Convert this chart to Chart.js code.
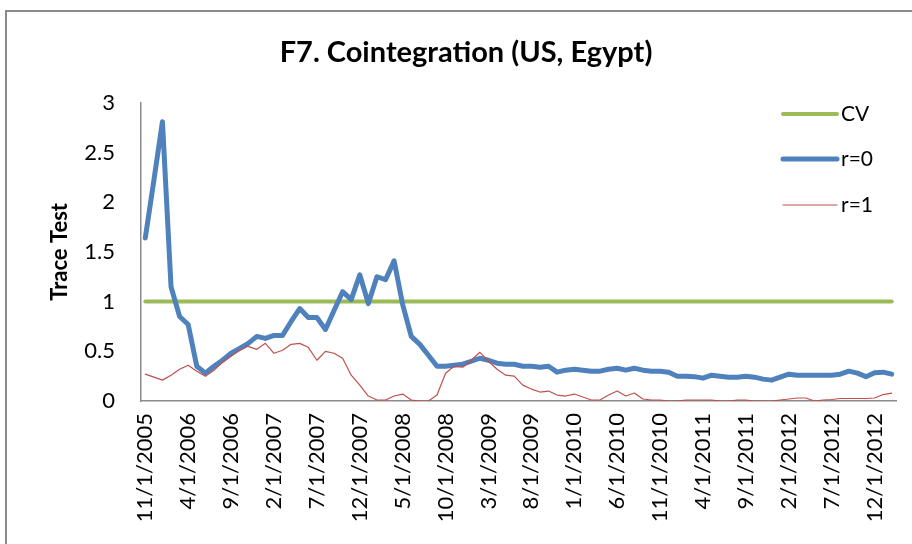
<!DOCTYPE html>
<html>
<head>
<meta charset="utf-8">
<script src="https://cdn.jsdelivr.net/npm/chart.js@4/dist/chart.umd.min.js"></script>
<style>
  body { margin: 0; background: #fff; }
  #wrap { position: relative; width: 912px; height: 544px; overflow: hidden; }
  #frame { position: absolute; left: 5px; top: 10px; width: 960px; height: 600px; border: 2px solid #8a8a8a; }
  canvas { position: absolute; left: 0; top: 0; }
</style>
</head>
<body>
<div id="wrap">
  <div id="frame"></div>
  <canvas id="grafico" width="912" height="544"></canvas>
</div>
<script>
// meses (11/2005 - 2/2013)
const meses = [
  '11/1/2005', '12/1/2005',
  '1/1/2006', '2/1/2006', '3/1/2006', '4/1/2006', '5/1/2006', '6/1/2006', '7/1/2006', '8/1/2006', '9/1/2006', '10/1/2006', '11/1/2006', '12/1/2006',
  '1/1/2007', '2/1/2007', '3/1/2007', '4/1/2007', '5/1/2007', '6/1/2007', '7/1/2007', '8/1/2007', '9/1/2007', '10/1/2007', '11/1/2007', '12/1/2007',
  '1/1/2008', '2/1/2008', '3/1/2008', '4/1/2008', '5/1/2008', '6/1/2008', '7/1/2008', '8/1/2008', '9/1/2008', '10/1/2008', '11/1/2008', '12/1/2008',
  '1/1/2009', '2/1/2009', '3/1/2009', '4/1/2009', '5/1/2009', '6/1/2009', '7/1/2009', '8/1/2009', '9/1/2009', '10/1/2009', '11/1/2009', '12/1/2009',
  '1/1/2010', '2/1/2010', '3/1/2010', '4/1/2010', '5/1/2010', '6/1/2010', '7/1/2010', '8/1/2010', '9/1/2010', '10/1/2010', '11/1/2010', '12/1/2010',
  '1/1/2011', '2/1/2011', '3/1/2011', '4/1/2011', '5/1/2011', '6/1/2011', '7/1/2011', '8/1/2011', '9/1/2011', '10/1/2011', '11/1/2011', '12/1/2011',
  '1/1/2012', '2/1/2012', '3/1/2012', '4/1/2012', '5/1/2012', '6/1/2012', '7/1/2012', '8/1/2012', '9/1/2012', '10/1/2012', '11/1/2012', '12/1/2012',
  '1/1/2013', '2/1/2013'
]

// valor critico
const cv = [
  1, 1, 1, 1, 1, 1, 1, 1, 1, 1, 1, 1, 1, 1, 1, 1, 1, 1, 1, 1, 1, 1,
  1, 1, 1, 1, 1, 1, 1, 1, 1, 1, 1, 1, 1, 1, 1, 1, 1, 1, 1, 1, 1, 1,
  1, 1, 1, 1, 1, 1, 1, 1, 1, 1, 1, 1, 1, 1, 1, 1, 1, 1, 1, 1, 1, 1,
  1, 1, 1, 1, 1, 1, 1, 1, 1, 1, 1, 1, 1, 1, 1, 1, 1, 1, 1, 1, 1, 1
]

const r0 = [
  1.64, 2.22, 2.81, 1.15, 0.85, 0.77, 0.35, 0.28, 0.35, 0.41,
  0.48, 0.53, 0.58, 0.65, 0.63, 0.66, 0.66, 0.80, 0.93, 0.84,
  0.84, 0.72, 0.91, 1.10, 1.02, 1.27, 0.98, 1.25, 1.22, 1.41,
  0.97, 0.65, 0.57, 0.46, 0.35, 0.35, 0.36, 0.37, 0.40, 0.43,
  0.41, 0.38, 0.37, 0.37, 0.35, 0.35, 0.34, 0.35, 0.29, 0.31,
  0.32, 0.31, 0.30, 0.30, 0.32, 0.33, 0.31, 0.33, 0.31, 0.30,
  0.30, 0.29, 0.25, 0.25, 0.245, 0.23, 0.26, 0.25, 0.24, 0.24,
  0.25, 0.24, 0.22, 0.21, 0.24, 0.27, 0.26, 0.26, 0.26, 0.26,
  0.26, 0.27, 0.30, 0.28, 0.245, 0.285, 0.29, 0.27
]

const r1 = [
  0.27, 0.24, 0.21, 0.26, 0.32, 0.36, 0.30, 0.25, 0.31, 0.39,
  0.45, 0.51, 0.55, 0.52, 0.58, 0.48, 0.51, 0.57, 0.58, 0.54,
  0.41, 0.50, 0.48, 0.43, 0.26, 0.16, 0.05, 0.01, 0.01, 0.05,
  0.07, 0.01, 0.00, 0.00, 0.06, 0.28, 0.35, 0.34, 0.41, 0.49,
  0.40, 0.32, 0.26, 0.25, 0.16, 0.12, 0.09, 0.10, 0.06, 0.05,
  0.07, 0.04, 0.01, 0.01, 0.06, 0.10, 0.05, 0.08, 0.02, 0.01,
  0.01, 0.00, 0.00, 0.01, 0.01, 0.01, 0.01, 0.00, 0.00, 0.01,
  0.01, 0.00, 0.00, 0.00, 0.01, 0.02, 0.03, 0.03, 0.00, 0.01,
  0.015, 0.025, 0.025, 0.025, 0.025, 0.03, 0.065, 0.08
]

const fonte = 'Lato, "Open Sans", sans-serif'

// legenda desenhada por cima da area do grafico (como no Excel)
const legendaExcel = {
  id: 'legendaExcel',
  afterDraw(chart) {
    const ctx = chart.ctx
    const linhas = [114, 159, 205]
    ctx.save()
    chart.data.datasets.forEach((ds, i) => {
      const y = linhas[i]
      ctx.beginPath()
      ctx.strokeStyle = ds.borderColor
      ctx.lineWidth = ds.borderWidth
      ctx.lineCap = 'round'
      ctx.moveTo(783, y)
      ctx.lineTo(837, y)
      ctx.stroke()
      ctx.fillStyle = '#000'
      ctx.font = '21px ' + fonte
      ctx.textBaseline = 'middle'
      ctx.textAlign = 'left'
      ctx.fillText(ds.label, 841, y)
    })
    ctx.restore()
  }
}

new Chart(document.getElementById('grafico'), {
  type: 'line',
  data: {
    labels: meses,
    datasets: [
      { label: 'CV', data: cv, borderColor: '#9BBB59', borderWidth: 4, order: 3 },
      { label: 'r=0', data: r0, borderColor: '#4F81BD', borderWidth: 5, order: 2 },
      { label: 'r=1', data: r1, borderColor: '#C0504D', borderWidth: 1.2, order: 1 }
    ]
  },
  options: {
    responsive: false,
    devicePixelRatio: 1,
    animation: false,
    // padding esquerdo desloca o titulo para o centro do quadro do Excel
    layout: { padding: { left: 36, right: 16, top: 0, bottom: 0 } },
    elements: {
      point: { radius: 0 },
      line: { tension: 0, borderJoinStyle: 'round', borderCapStyle: 'round' }
    },
    plugins: {
      legend: { display: false },
      tooltip: { enabled: false },
      title: {
        display: true,
        text: 'F7. Cointegration (US, Egypt)',
        color: '#000',
        font: { family: fonte, size: 29, weight: 'bold' },
        padding: { top: 35, bottom: 33 }
      }
    },
    scales: {
      x: {
        type: 'category',
        offset: true,
        grid: { display: false, drawTicks: false },
        border: { display: true, color: '#8a8a8a', width: 1.5 },
        ticks: {
          autoSkip: false,
          minRotation: 90,
          maxRotation: 90,
          padding: 12,
          color: '#000',
          font: { family: fonte, size: 22 },
          callback: function (val, index) {
            return index % 5 === 0 ? this.getLabelForValue(val) : ''
          }
        },
        afterFit: (scale) => {
          scale.height = 143
          scale.paddingLeft = 0
          scale.paddingRight = 0
        }
      },
      y: {
        min: 0,
        max: 3,
        grid: { display: false, drawTicks: false },
        border: { display: true, color: '#8a8a8a', width: 1.5 },
        ticks: {
          stepSize: 0.5,
          padding: 26,
          color: '#000',
          font: { family: fonte, size: 22 },
          callback: (v) => String(v)
        },
        title: {
          display: true,
          text: 'Trace Test',
          color: '#000',
          font: { family: fonte, size: 22, weight: 'bold' },
          padding: { top: 11, bottom: 0 }
        },
        afterFit: (scale) => { scale.width = 105 }
      }
    }
  },
  plugins: [legendaExcel]
})
</script>
</body>
</html>
